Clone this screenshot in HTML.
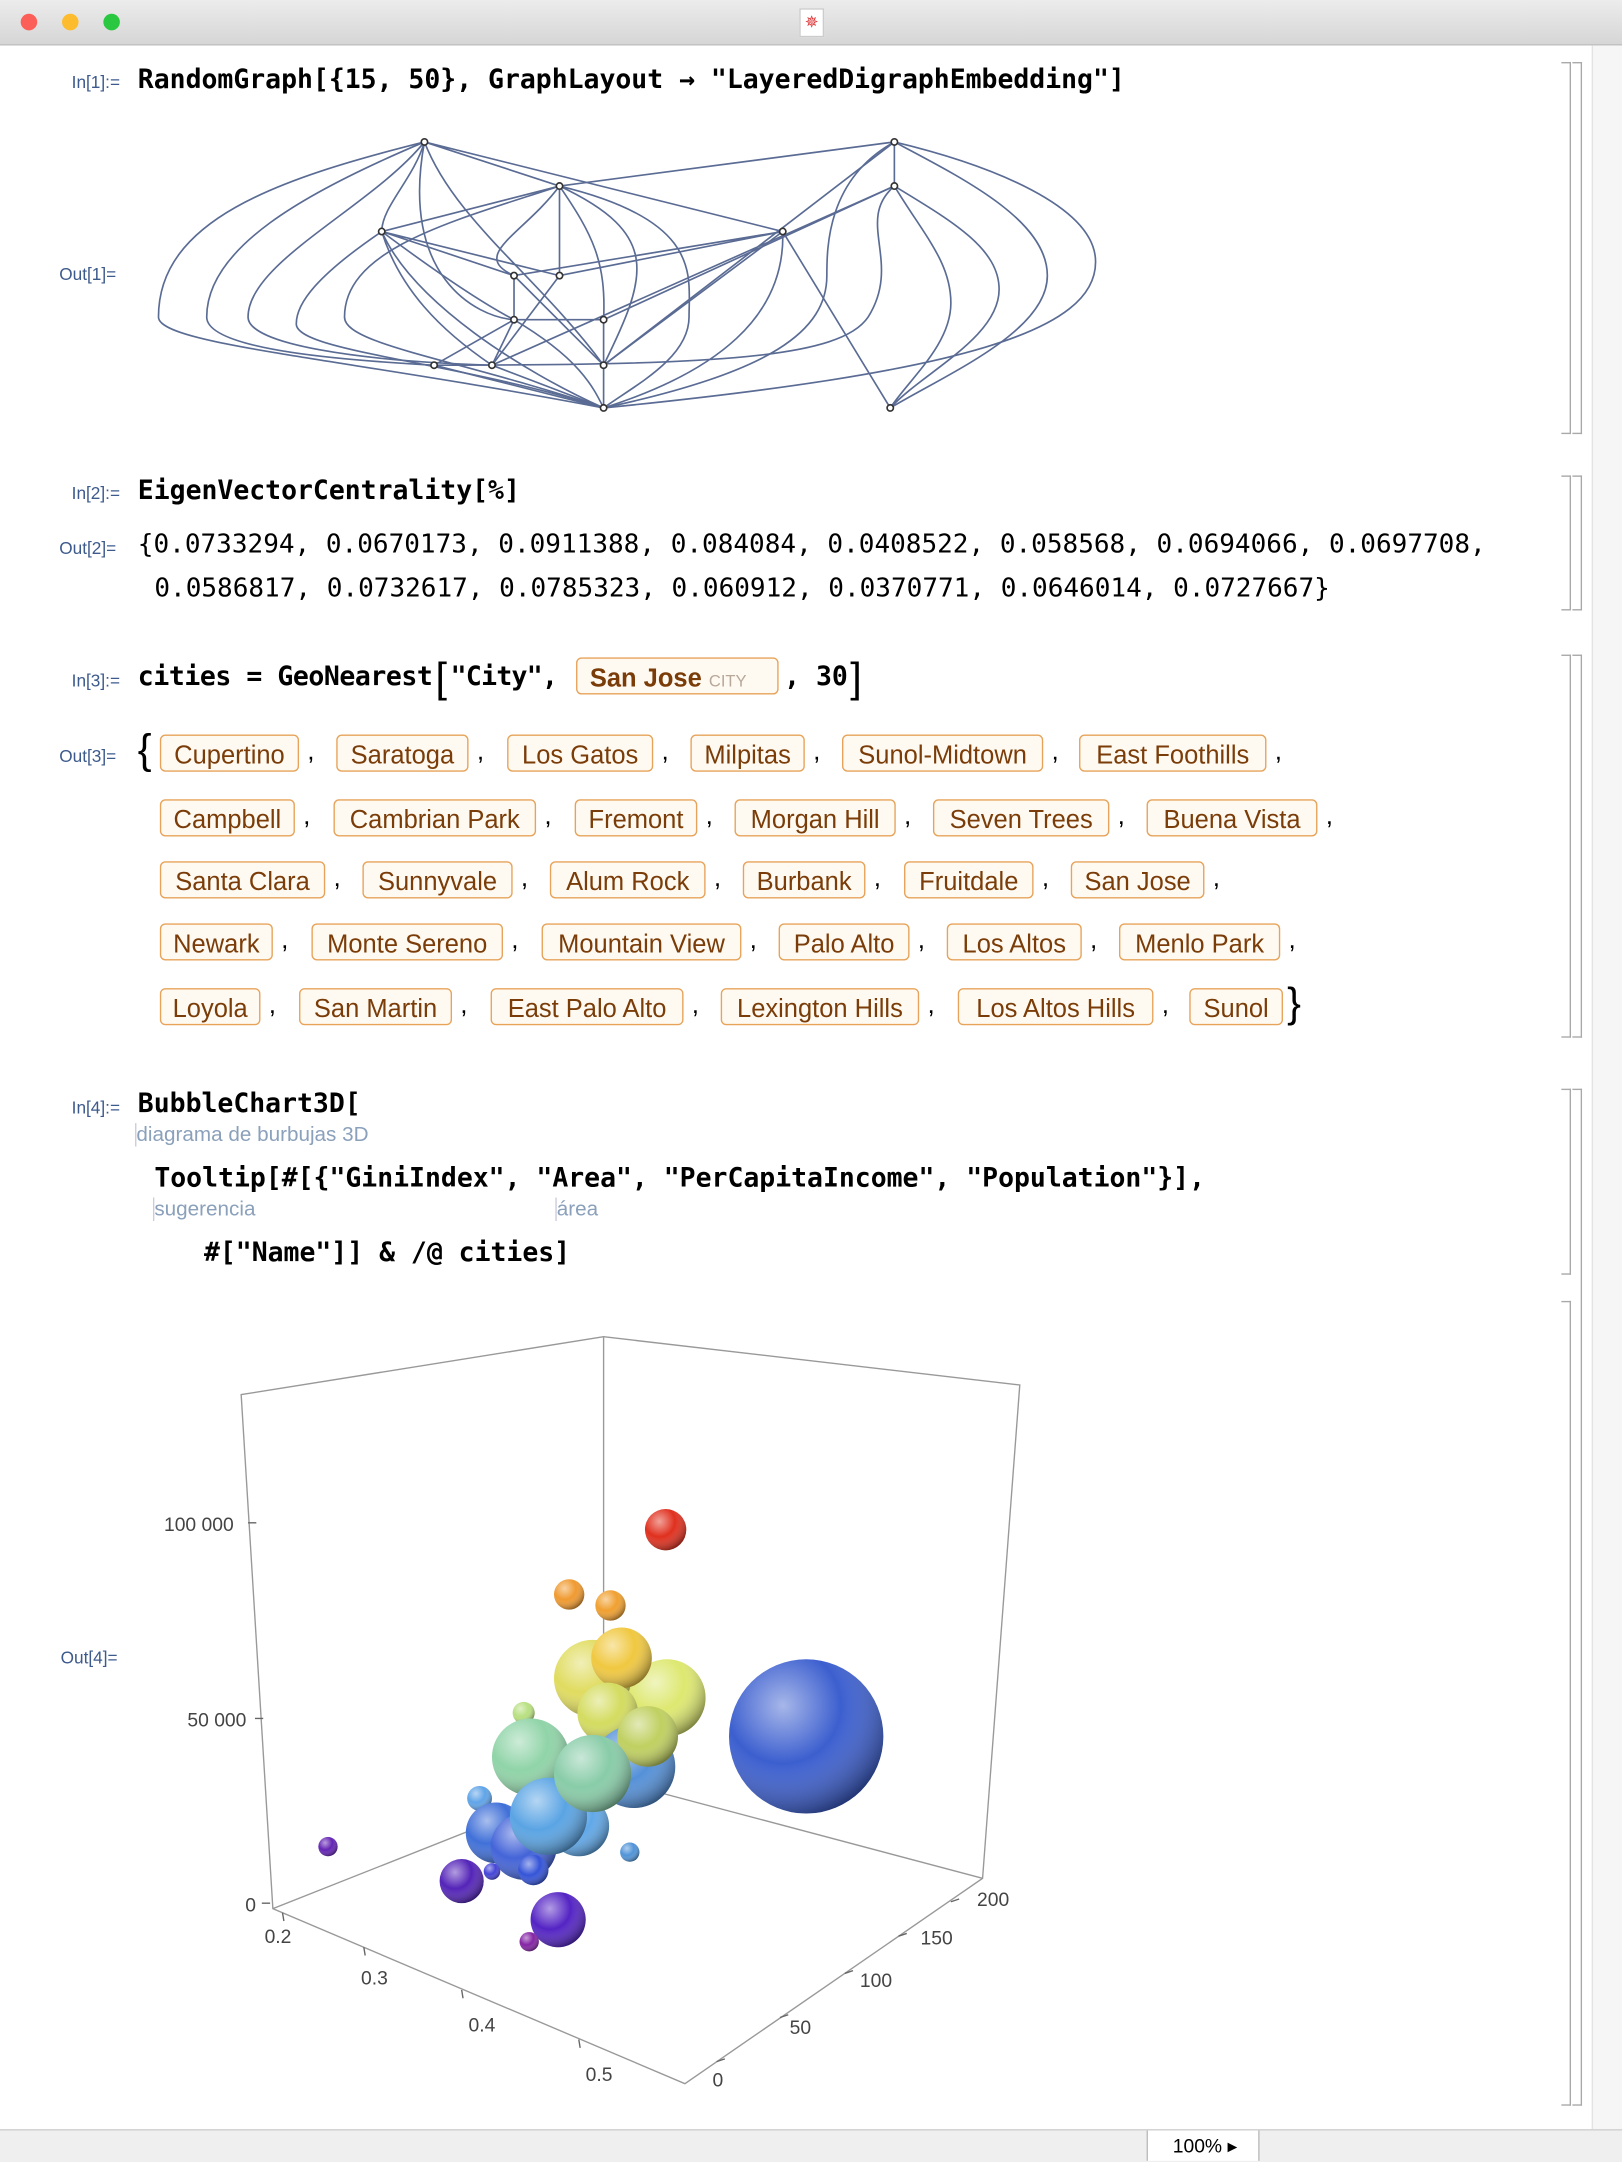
<!DOCTYPE html>
<html><head><meta charset="utf-8"><style>
html,body{margin:0;padding:0;width:1622px;height:2160px;overflow:hidden;background:#fff}
#w{position:absolute;left:0;top:0;width:1177px;height:1568px;transform:scale(1.37808);transform-origin:0 0;font-family:"Liberation Sans",sans-serif}
.a{position:absolute;white-space:nowrap}
.lbl{font-size:12.5px;color:#3d5a8c}
.code{font-family:"DejaVu Sans Mono","Liberation Mono",monospace;font-weight:bold;font-size:19.2px;color:#000}
.num{font-family:"DejaVu Sans Mono","Liberation Mono",monospace;font-size:18.9px;color:#000}
.tag{position:absolute;height:27px;border:1.3px solid #e7a35a;border-radius:4px;background:#fffaf1;color:#7a3c08;font-size:18.5px;line-height:27px;text-align:center;box-sizing:border-box}
.cm{position:absolute;font-size:19px}
.hint{font-size:15px;color:#8aa0bb}
.br{position:absolute;border-right:1.2px solid #a9a9a9;border-top:1.2px solid #a9a9a9;border-bottom:1.2px solid #a9a9a9;width:6px}
</style></head><body><div id="w">
<div class="a" style="left:0;top:0;width:1177px;height:32px;background:linear-gradient(#ececec,#d6d6d6);border-bottom:1px solid #bdbdbd"></div>
<div class="a" style="left:15px;top:10px;width:12px;height:12px;border-radius:50%;background:#fc5f57"></div>
<div class="a" style="left:45px;top:10px;width:12px;height:12px;border-radius:50%;background:#fdbc2e"></div>
<div class="a" style="left:75px;top:10px;width:12px;height:12px;border-radius:50%;background:#29c840"></div>
<div class="a" style="left:580px;top:6px;width:16px;height:19px;background:#fff;border:1px solid #ccc;color:#d33;font-size:12px;text-align:center;line-height:19px">✵</div>
<div class="a" style="left:1155px;top:33px;width:22px;height:1512px;background:#f6f6f6;border-left:1px solid #e3e3e3"></div>
<div class="a" style="left:0;top:1545px;width:1177px;height:23px;background:#efefef;border-top:1px solid #cfcfcf"></div>
<div class="a" style="left:832px;top:1546px;width:80px;height:22px;background:#fff;border-left:1px solid #bbb;border-right:1px solid #bbb;font-size:14px;line-height:22px;text-indent:18px">100% ▸</div>

<div class="br" style="left:1133px;top:45px;height:268px"></div>
<div class="br" style="left:1141px;top:45px;height:268px"></div>
<div class="br" style="left:1133px;top:345px;height:96px"></div>
<div class="br" style="left:1141px;top:345px;height:96px"></div>
<div class="br" style="left:1133px;top:475px;height:276px"></div>
<div class="br" style="left:1141px;top:475px;height:276px"></div>
<div class="br" style="left:1133px;top:790px;height:133px"></div>
<div class="br" style="left:1133px;top:944px;height:582px"></div>
<div class="br" style="left:1141px;top:790px;height:736px"></div>

<div class="a lbl" style="left:52px;top:53px">In[1]:=</div>
<div class="a code" style="left:100px;top:46px">RandomGraph[{15, 50}, GraphLayout → "LayeredDigraphEmbedding"]</div>
<div class="a lbl" style="left:43px;top:192px">Out[1]=</div>
<svg class="a" style="left:0;top:0" width="1177" height="330" fill="none" stroke="#5a6b94" stroke-width="1.2">
<path d="M308,103 C200,130 115,160 115,230 C115,250 250,260 438,296"/>
<path d="M308,103 C220,140 150,180 150,230 C150,255 260,262 315,265"/>
<path d="M308,103 C270,150 180,190 180,230 C180,250 260,262 357,265"/>
<path d="M308,103 C300,130 277,150 277,168"/>
<path d="M308,103 C330,160 390,200 438,265"/>
<path d="M308,103 L406,135 M308,103 L568,168"/>
<path d="M406,135 L277,168 M406,135 C380,170 340,185 373,200 M406,135 L406,200 M406,135 C430,170 440,190 438,232 M406,135 C480,170 470,200 438,265 M406,135 C510,160 500,200 500,230 C500,260 460,280 438,296"/>
<path d="M406,135 C330,160 250,180 250,230 C250,250 330,260 438,296"/>
<path d="M277,168 L373,200 M277,168 L406,200 M277,168 C320,200 350,220 373,232 M277,168 C230,200 215,220 215,235 C215,255 330,262 438,296 M277,168 C290,210 320,240 357,265"/>
<path d="M373,200 L373,232 M373,200 L568,168 M406,200 L568,168 M406,200 L357,265 M373,200 L438,265"/>
<path d="M373,232 L315,265 M373,232 L357,265 M373,232 L438,232 M373,232 C420,260 430,280 438,296 M438,232 L438,265 M438,232 L649,135"/>
<path d="M315,265 L438,296 M357,265 L438,296 M438,265 L438,296 M438,265 L649,103 M357,265 L649,135"/>
<path d="M649,103 L406,135 M649,103 L649,135 M649,103 C720,120 795,150 795,190 C795,240 700,270 438,296"/>
<path d="M649,103 C700,130 760,160 760,200 C760,240 690,270 646,296"/>
<path d="M649,135 C690,160 725,180 725,210 C725,245 670,270 646,296"/>
<path d="M649,135 C670,170 690,190 690,220 C690,250 660,275 646,296"/>
<path d="M649,103 C600,130 600,180 600,200 C600,240 560,270 438,296"/>
<path d="M568,168 L646,296 M568,168 C570,230 520,270 438,296 M568,168 L438,265 M649,135 C620,160 655,190 630,230 C610,260 520,265 315,265"/>
<path d="M308,103 C290,200 345,230 373,232 M277,168 C300,220 380,270 438,296"/>
<g fill="#fff" stroke="#333" stroke-width="1.2">
<circle cx="308" cy="103" r="2.3"/><circle cx="649" cy="103" r="2.3"/><circle cx="406" cy="135" r="2.3"/><circle cx="649" cy="135" r="2.3"/><circle cx="277" cy="168" r="2.3"/><circle cx="568" cy="168" r="2.3"/><circle cx="373" cy="200" r="2.3"/><circle cx="406" cy="200" r="2.3"/><circle cx="373" cy="232" r="2.3"/><circle cx="438" cy="232" r="2.3"/><circle cx="315" cy="265" r="2.3"/><circle cx="357" cy="265" r="2.3"/><circle cx="438" cy="265" r="2.3"/><circle cx="438" cy="296" r="2.3"/><circle cx="646" cy="296" r="2.3"/>
</g></svg>

<div class="a lbl" style="left:52px;top:351px">In[2]:=</div>
<div class="a code" style="left:100px;top:344px">EigenVectorCentrality[%]</div>
<div class="a lbl" style="left:43px;top:391px">Out[2]=</div>
<div class="a num" style="left:100px;top:384px">{0.0733294, 0.0670173, 0.0911388, 0.084084, 0.0408522, 0.058568, 0.0694066, 0.0697708,</div>
<div class="a num" style="left:112px;top:416px">0.0586817, 0.0732617, 0.0785323, 0.060912, 0.0370771, 0.0646014, 0.0727667}</div>

<div class="a lbl" style="left:52px;top:487px">In[3]:=</div>
<div class="a code" style="left:100px;top:479px;letter-spacing:-0.3px">cities = GeoNearest</div>
<div class="a" style="left:316px;top:476px;font-size:30px;font-weight:300">[</div>
<div class="a code" style="left:327px;top:479px;letter-spacing:-0.5px">"City",</div>
<div class="tag" style="left:418px;top:477px;width:147px;text-align:left;padding-left:9px;font-weight:bold">San Jose <span style="font-size:12px;font-weight:normal;color:#b8a89a">CITY</span></div>
<div class="a code" style="left:569px;top:479px">, 30</div>
<div class="a" style="left:617px;top:476px;font-size:30px;font-weight:300">]</div>

<div class="a lbl" style="left:43px;top:542px">Out[3]=</div>
<div class="a" style="left:100px;top:528px;font-size:30px;font-weight:200">{</div>
<div class="a" style="left:934px;top:712px;font-size:30px;font-weight:200">}</div>

<div class="tag" style="left:116px;top:533px;width:101px">Cupertino</div><div class="cm" style="left:223px;top:535px">,</div>
<div class="tag" style="left:244px;top:533px;width:96px">Saratoga</div><div class="cm" style="left:346px;top:535px">,</div>
<div class="tag" style="left:368px;top:533px;width:106px">Los Gatos</div><div class="cm" style="left:480px;top:535px">,</div>
<div class="tag" style="left:501px;top:533px;width:83px">Milpitas</div><div class="cm" style="left:590px;top:535px">,</div>
<div class="tag" style="left:611px;top:533px;width:146px">Sunol-Midtown</div><div class="cm" style="left:763px;top:535px">,</div>
<div class="tag" style="left:783px;top:533px;width:136px">East Foothills</div><div class="cm" style="left:925px;top:535px">,</div>

<div class="tag" style="left:116px;top:580px;width:98px">Campbell</div><div class="cm" style="left:220px;top:582px">,</div>
<div class="tag" style="left:242px;top:580px;width:147px">Cambrian Park</div><div class="cm" style="left:395px;top:582px">,</div>
<div class="tag" style="left:417px;top:580px;width:89px">Fremont</div><div class="cm" style="left:512px;top:582px">,</div>
<div class="tag" style="left:533px;top:580px;width:117px">Morgan Hill</div><div class="cm" style="left:656px;top:582px">,</div>
<div class="tag" style="left:677px;top:580px;width:128px">Seven Trees</div><div class="cm" style="left:811px;top:582px">,</div>
<div class="tag" style="left:832px;top:580px;width:124px">Buena Vista</div><div class="cm" style="left:962px;top:582px">,</div>

<div class="tag" style="left:116px;top:625px;width:120px">Santa Clara</div><div class="cm" style="left:242px;top:627px">,</div>
<div class="tag" style="left:263px;top:625px;width:109px">Sunnyvale</div><div class="cm" style="left:378px;top:627px">,</div>
<div class="tag" style="left:399px;top:625px;width:113px">Alum Rock</div><div class="cm" style="left:518px;top:627px">,</div>
<div class="tag" style="left:539px;top:625px;width:89px">Burbank</div><div class="cm" style="left:634px;top:627px">,</div>
<div class="tag" style="left:656px;top:625px;width:94px">Fruitdale</div><div class="cm" style="left:756px;top:627px">,</div>
<div class="tag" style="left:777px;top:625px;width:97px">San Jose</div><div class="cm" style="left:880px;top:627px">,</div>

<div class="tag" style="left:116px;top:670px;width:82px">Newark</div><div class="cm" style="left:204px;top:672px">,</div>
<div class="tag" style="left:226px;top:670px;width:139px">Monte Sereno</div><div class="cm" style="left:371px;top:672px">,</div>
<div class="tag" style="left:393px;top:670px;width:145px">Mountain View</div><div class="cm" style="left:544px;top:672px">,</div>
<div class="tag" style="left:565px;top:670px;width:95px">Palo Alto</div><div class="cm" style="left:666px;top:672px">,</div>
<div class="tag" style="left:687px;top:670px;width:98px">Los Altos</div><div class="cm" style="left:791px;top:672px">,</div>
<div class="tag" style="left:812px;top:670px;width:117px">Menlo Park</div><div class="cm" style="left:935px;top:672px">,</div>

<div class="tag" style="left:116px;top:717px;width:73px">Loyola</div><div class="cm" style="left:195px;top:719px">,</div>
<div class="tag" style="left:217px;top:717px;width:111px">San Martin</div><div class="cm" style="left:334px;top:719px">,</div>
<div class="tag" style="left:356px;top:717px;width:140px">East Palo Alto</div><div class="cm" style="left:502px;top:719px">,</div>
<div class="tag" style="left:523px;top:717px;width:144px">Lexington Hills</div><div class="cm" style="left:673px;top:719px">,</div>
<div class="tag" style="left:695px;top:717px;width:142px">Los Altos Hills</div><div class="cm" style="left:843px;top:719px">,</div>
<div class="tag" style="left:863px;top:717px;width:68px">Sunol</div>

<div class="a lbl" style="left:52px;top:797px">In[4]:=</div>
<div class="a code" style="left:100px;top:789px">BubbleChart3D[</div>
<div class="a hint" style="left:98px;top:815px;border-left:1px solid #ccd">diagrama de burbujas 3D</div>
<div class="a code" style="left:112px;top:843px">Tooltip[#[{"GiniIndex", "Area", "PerCapitaIncome", "Population"}],</div>
<div class="a hint" style="left:111px;top:869px;border-left:1px solid #ccd">sugerencia</div>
<div class="a hint" style="left:403px;top:869px;border-left:1px solid #ccd">área</div>
<div class="a code" style="left:148px;top:897px">#["Name"]] &amp; /@ cities]</div>

<div class="a lbl" style="left:44px;top:1196px">Out[4]=</div>
<svg class="a" style="left:0;top:0" width="1177" height="1545">
<defs>
<radialGradient id="g" cx="35%" cy="30%" r="75%"><stop offset="0" stop-color="#fff" stop-opacity=".55"/><stop offset=".5" stop-color="#fff" stop-opacity="0"/><stop offset="1" stop-color="#000" stop-opacity=".45"/></radialGradient>
</defs>
<g stroke="#999" stroke-width="1" fill="none">
<path d="M175,1012 L438,970 L740,1005 L713,1363 L497,1512 L198,1385 Z"/>
<path d="M438,970 L438,1290 L198,1385 M438,1290 L713,1363"/>
</g>
<g stroke="#666" stroke-width="1">
<path d="M186,1105 l-6,0 M191,1247 l-6,0 M196,1381 l-6,0"/>
<path d="M205,1388 l1,6 M264,1413 l1,6 M335,1444 l1,6 M420,1480 l1,6"/>
<path d="M520,1496 l6,-2 M566,1464 l6,-2 M613,1432 l6,-2 M652,1405 l6,-2 M690,1380 l6,-2"/>
</g>
<g font-family="Liberation Sans,sans-serif" font-size="14" fill="#444">
<text x="119" y="1111">100 000</text><text x="136" y="1253">50 000</text><text x="178" y="1387">0</text>
<text x="192" y="1410">0.2</text><text x="262" y="1440">0.3</text><text x="340" y="1474">0.4</text><text x="425" y="1510">0.5</text>
<text x="517" y="1514">0</text><text x="573" y="1476">50</text><text x="624" y="1442">100</text><text x="668" y="1411">150</text><text x="709" y="1383">200</text>
</g>
<g>
<circle cx="585" cy="1260" r="56" fill="#3c5fcf"/><circle cx="585" cy="1260" r="56" fill="url(#g)"/>
<circle cx="483" cy="1110" r="15" fill="#e0301e"/><circle cx="483" cy="1110" r="15" fill="url(#g)"/>
<circle cx="413" cy="1157" r="11" fill="#f09a30"/><circle cx="413" cy="1157" r="11" fill="url(#g)"/>
<circle cx="443" cy="1165" r="11" fill="#f0a030"/><circle cx="443" cy="1165" r="11" fill="url(#g)"/>
<circle cx="484" cy="1232" r="28" fill="#dde870"/><circle cx="484" cy="1232" r="28" fill="url(#g)"/>
<circle cx="430" cy="1218" r="28" fill="#e0dc60"/><circle cx="430" cy="1218" r="28" fill="url(#g)"/>
<circle cx="451" cy="1203" r="22" fill="#f0c840"/><circle cx="451" cy="1203" r="22" fill="url(#g)"/>
<circle cx="441" cy="1243" r="22" fill="#d4dc60"/><circle cx="441" cy="1243" r="22" fill="url(#g)"/>
<circle cx="380" cy="1243" r="8" fill="#b8e080"/><circle cx="380" cy="1243" r="8" fill="url(#g)"/>
<circle cx="460" cy="1282" r="30" fill="#5490d8"/><circle cx="460" cy="1282" r="30" fill="url(#g)"/>
<circle cx="470" cy="1260" r="22" fill="#c0d060"/><circle cx="470" cy="1260" r="22" fill="url(#g)"/>
<circle cx="385" cy="1275" r="28" fill="#90d4a8"/><circle cx="385" cy="1275" r="28" fill="url(#g)"/>
<circle cx="348" cy="1305" r="9" fill="#60a4e8"/><circle cx="348" cy="1305" r="9" fill="url(#g)"/>
<circle cx="360" cy="1330" r="22" fill="#4070d8"/><circle cx="360" cy="1330" r="22" fill="url(#g)"/>
<circle cx="380" cy="1340" r="24" fill="#4464d8"/><circle cx="380" cy="1340" r="24" fill="url(#g)"/>
<circle cx="420" cy="1325" r="22" fill="#60a8e8"/><circle cx="420" cy="1325" r="22" fill="url(#g)"/>
<circle cx="398" cy="1318" r="28" fill="#5aa4e4"/><circle cx="398" cy="1318" r="28" fill="url(#g)"/>
<circle cx="430" cy="1287" r="28" fill="#88cca8"/><circle cx="430" cy="1287" r="28" fill="url(#g)"/>
<circle cx="387" cy="1357" r="11" fill="#3454d8"/><circle cx="387" cy="1357" r="11" fill="url(#g)"/>
<circle cx="457" cy="1344" r="7" fill="#5094d8"/><circle cx="457" cy="1344" r="7" fill="url(#g)"/>
<circle cx="335" cy="1365" r="16" fill="#5424b8"/><circle cx="335" cy="1365" r="16" fill="url(#g)"/>
<circle cx="357" cy="1358" r="6" fill="#4444d8"/><circle cx="357" cy="1358" r="6" fill="url(#g)"/>
<circle cx="238" cy="1340" r="7" fill="#6424b4"/><circle cx="238" cy="1340" r="7" fill="url(#g)"/>
<circle cx="405" cy="1393" r="20" fill="#5424c4"/><circle cx="405" cy="1393" r="20" fill="url(#g)"/>
<circle cx="384" cy="1409" r="7" fill="#8424a4"/><circle cx="384" cy="1409" r="7" fill="url(#g)"/>
</g>
</svg>
</div></body></html>
